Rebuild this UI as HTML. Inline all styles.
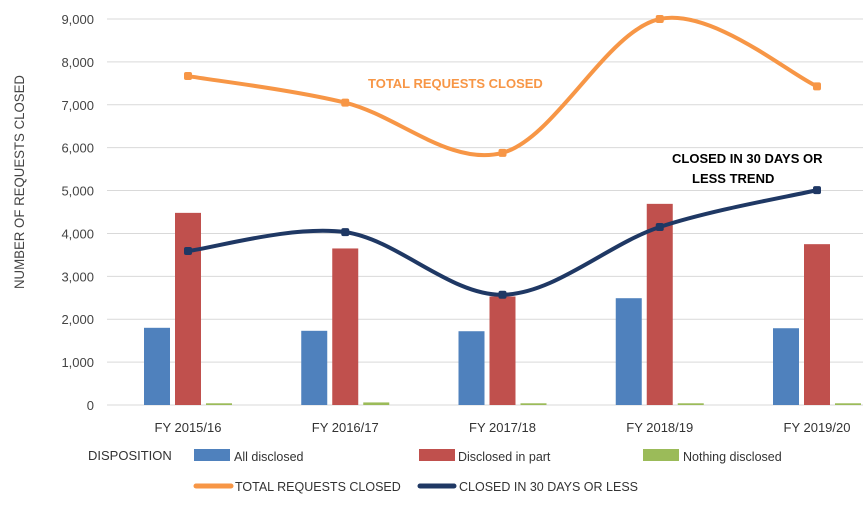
<!DOCTYPE html>
<html><head><meta charset="utf-8"><style>
html,body{margin:0;padding:0;background:#fff;width:863px;height:507px;overflow:hidden}
text{font-family:"Liberation Sans",sans-serif}
</style></head><body>
<svg id="chart" width="863" height="507" viewBox="0 0 863 507" xmlns="http://www.w3.org/2000/svg">
<g id="grid"></g><g id="bars"></g><g id="lines"></g><g id="labels"></g>
<text transform="translate(24,182) rotate(-90)" text-anchor="middle" font-size="14" fill="#444" textLength="214" lengthAdjust="spacingAndGlyphs">NUMBER OF REQUESTS CLOSED</text>
<text x="368" y="88" font-size="13" font-weight="bold" fill="#f79646">TOTAL REQUESTS CLOSED</text>
<text x="672" y="163" font-size="13" font-weight="bold" fill="#000">CLOSED IN 30 DAYS OR</text>
<text x="692" y="183" font-size="13" font-weight="bold" fill="#000">LESS TREND</text>
<g>
<text x="88" y="460" font-size="13" fill="#333">DISPOSITION</text>
<rect x="194" y="449" width="36" height="12" fill="#4f81bd"/>
<text x="234" y="461" font-size="12.5" fill="#333">All disclosed</text>
<rect x="419" y="449" width="36" height="12" fill="#c0504d"/>
<text x="458" y="461" font-size="12.5" fill="#333">Disclosed in part</text>
<rect x="643" y="449" width="36" height="12" fill="#9bbb59"/>
<text x="683" y="461" font-size="12.5" fill="#333">Nothing disclosed</text>
<line x1="196" y1="486" x2="231" y2="486" stroke="#f79646" stroke-width="5" stroke-linecap="round"/>
<text x="235" y="491" font-size="12.5" fill="#333">TOTAL REQUESTS CLOSED</text>
<line x1="420" y1="486" x2="454" y2="486" stroke="#1f3864" stroke-width="5" stroke-linecap="round"/>
<text x="459" y="491" font-size="12.5" fill="#333">CLOSED IN 30 DAYS OR LESS</text>
</g>
</svg>
<script>
const categories = ["FY 2015/16","FY 2016/17","FY 2017/18","FY 2018/19","FY 2019/20"];
const allDisclosed = [1800,1730,1720,2490,1790];
const disclosedInPart = [4480,3650,2530,4690,3750];
const nothingDisclosed = [40,60,40,40,40];
const totalClosed = [7670,7050,5880,9000,7430];
const closed30 = [3590,4030,2570,4150,5010];
const yTicks = [0,1000,2000,3000,4000,5000,6000,7000,8000,9000];
const yTickLabels = ["0","1,000","2,000","3,000","4,000","5,000","6,000","7,000","8,000","9,000"];

const NS="http://www.w3.org/2000/svg";
const y0=405, yPer=386/9000, x0=188, step=157.25;
const yS=v=>y0-v*yPer, xS=i=>x0+i*step;
function mk(tag,attrs,parent){const e=document.createElementNS(NS,tag);for(const k in attrs)e.setAttribute(k,attrs[k]);parent.appendChild(e);return e;}
const grid=document.getElementById('grid'),bars=document.getElementById('bars'),lines=document.getElementById('lines'),labels=document.getElementById('labels');
yTicks.forEach((t,i)=>{
  const g=mk('line',{x1:107,x2:863,y1:yS(t),y2:yS(t),stroke:'#d9d9d9','stroke-width':1},grid);
  
  
  const tx=mk('text',{x:94,y:yS(t)+5,'text-anchor':'end','font-size':13,fill:'#444'},labels);
  tx.textContent=yTickLabels[i];
  
  
});
categories.forEach((c,i)=>{
  const tx=mk('text',{x:xS(i),y:432,'text-anchor':'middle','font-size':13,fill:'#333'},labels);
  tx.textContent=c;
  
  
});
const series=[[allDisclosed,'#4f81bd',-31,'bar-all-disclosed'],[disclosedInPart,'#c0504d',0,'bar-disclosed-in-part'],[nothingDisclosed,'#9bbb59',31,'bar-nothing-disclosed']];
series.forEach(([vals,col,off,name])=>{
  vals.forEach((v,i)=>{
    const r=mk('rect',{x:xS(i)+off-13,y:yS(v),width:26,height:y0-yS(v),fill:col},bars);
    
    
  });
});
function smooth(pts){
  let d=`M${pts[0][0]},${pts[0][1]}`;
  for(let i=0;i<pts.length-1;i++){
    const p0=pts[i-1]||pts[i],p1=pts[i],p2=pts[i+1],p3=pts[i+2]||p2,t=1/6;
    d+=` C${p1[0]+(p2[0]-p0[0])*t},${p1[1]+(p2[1]-p0[1])*t} ${p2[0]-(p3[0]-p1[0])*t},${p2[1]-(p3[1]-p1[1])*t} ${p2[0]},${p2[1]}`;
  }
  return d;
}
[[totalClosed,'#f79646','line-total-requests-closed'],[closed30,'#1f3864','line-closed-30-days']].forEach(([vals,col,name])=>{
  const pts=vals.map((v,i)=>[xS(i),yS(v)]);
  const p=mk('path',{d:smooth(pts),fill:'none',stroke:col,'stroke-width':4,'stroke-linecap':'round'},lines);
  
  
  pts.forEach(pt=>{
    const m=mk('rect',{x:pt[0]-4,y:pt[1]-4,width:8,height:8,rx:2,fill:col},lines);
    
    
  });
});
</script>
</body></html>
